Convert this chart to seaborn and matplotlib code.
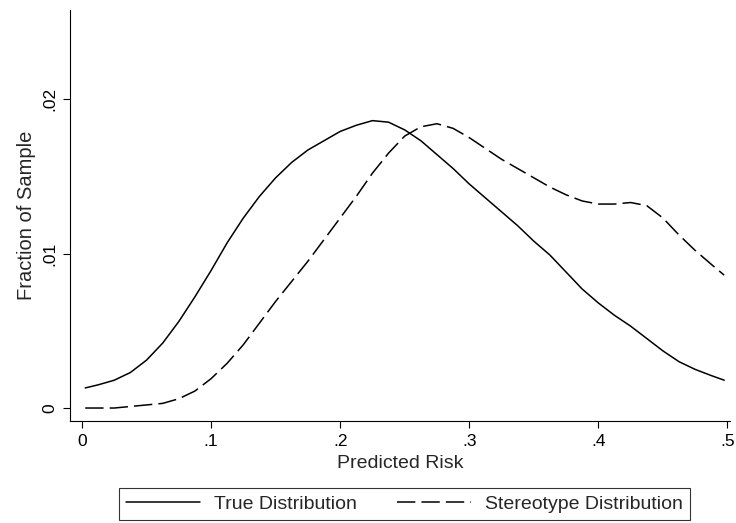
import pandas as pd
import matplotlib
matplotlib.use('Agg')
import matplotlib.pyplot as plt
import seaborn as sns

# Values
risk = [0.0025, 0.0125, 0.025, 0.0375, 0.05, 0.0625, 0.075, 0.0875, 0.1, 0.1125,
        0.125, 0.1375, 0.15, 0.1625, 0.175, 0.1875, 0.2, 0.2125, 0.225, 0.2375,
        0.25, 0.2625, 0.275, 0.2875, 0.3, 0.3125, 0.325, 0.3375, 0.35, 0.3625,
        0.375, 0.3875, 0.4, 0.4125, 0.425, 0.4375, 0.45, 0.4625, 0.475, 0.4875, 0.4975]
true_dist = [0.0013, 0.0015, 0.0018, 0.0023, 0.0031, 0.0042, 0.0056, 0.0072, 0.0089, 0.0107,
             0.0123, 0.0137, 0.0149, 0.0159, 0.0167, 0.0173, 0.0179, 0.0183, 0.0186, 0.0185,
             0.0180, 0.0173, 0.0164, 0.0155, 0.0145, 0.0136, 0.0127, 0.0118, 0.0108, 0.0099,
             0.0088, 0.0077, 0.0068, 0.0060, 0.0053, 0.0045, 0.0037, 0.0030, 0.0025, 0.0021, 0.0018]
stereo_dist = [0.0000, 0.0000, 0.0000, 0.0001, 0.0002, 0.0003, 0.0006, 0.0011, 0.0019, 0.0029,
               0.0041, 0.0055, 0.0069, 0.0082, 0.0095, 0.0109, 0.0123, 0.0137, 0.0152, 0.0165,
               0.0176, 0.0182, 0.0184, 0.0181, 0.0175, 0.0168, 0.0161, 0.0155, 0.0149, 0.0143,
               0.0138, 0.0134, 0.0132, 0.0132, 0.0133, 0.0131, 0.0123, 0.0112, 0.0102, 0.0093, 0.0086]
series_names = ['True Distribution', 'Stereotype Distribution']
x_ticks = [0, 0.1, 0.2, 0.3, 0.4, 0.5]
x_labels = ['0', '.1', '.2', '.3', '.4', '.5']
y_ticks = [0, 0.01, 0.02]
y_labels = ['0', '.01', '.02']

df = pd.DataFrame({
    'risk': risk * 2,
    'fraction': true_dist + stereo_dist,
    'series': [series_names[0]] * len(risk) + [series_names[1]] * len(risk),
})

sns.set_style('ticks')
plt.rcParams['font.family'] = ['Liberation Sans', 'DejaVu Sans']

fig = plt.figure(figsize=(7.36, 5.23), dpi=100)
ax = fig.add_axes([70 / 736, 102 / 523, 660 / 736, 411 / 523])

sns.lineplot(data=df, x='risk', y='fraction', hue='series', style='series',
             palette=['black', 'black'],
             dashes={series_names[0]: '', series_names[1]: (12, 4)},
             linewidth=1.1, ax=ax, legend=True)

ax.set_xlim(-0.0093, 0.502)
ax.set_ylim(-0.00084, 0.02576)
ax.set_xticks(x_ticks)
ax.set_xticklabels(x_labels, fontsize=12.5)
ax.set_yticks(y_ticks)
ax.set_yticklabels(y_labels, fontsize=12.5, rotation=90, va='center')
ax.tick_params(direction='out', length=5, width=0.8, colors='black', pad=4)
ax.set_xlabel('Predicted Risk', fontsize=14, labelpad=5)
ax.set_ylabel('Fraction of Sample', fontsize=14.5, labelpad=5)
sns.despine(ax=ax)
for s in ['left', 'bottom']:
    ax.spines[s].set_linewidth(0.8)
    ax.spines[s].set_color('black')

handles, labels = ax.get_legend_handles_labels()
ax.get_legend().remove()
leg = fig.legend(handles, labels, loc='center', bbox_to_anchor=(404.5 / 736, 19 / 523),
                 ncol=2, fontsize=14, frameon=True, fancybox=False,
                 edgecolor='black', handlelength=3.8, handletextpad=0.7,
                 columnspacing=2.1, borderpad=0.35)
leg.get_frame().set_linewidth(0.8)

fig.savefig('out.png', dpi=100)
